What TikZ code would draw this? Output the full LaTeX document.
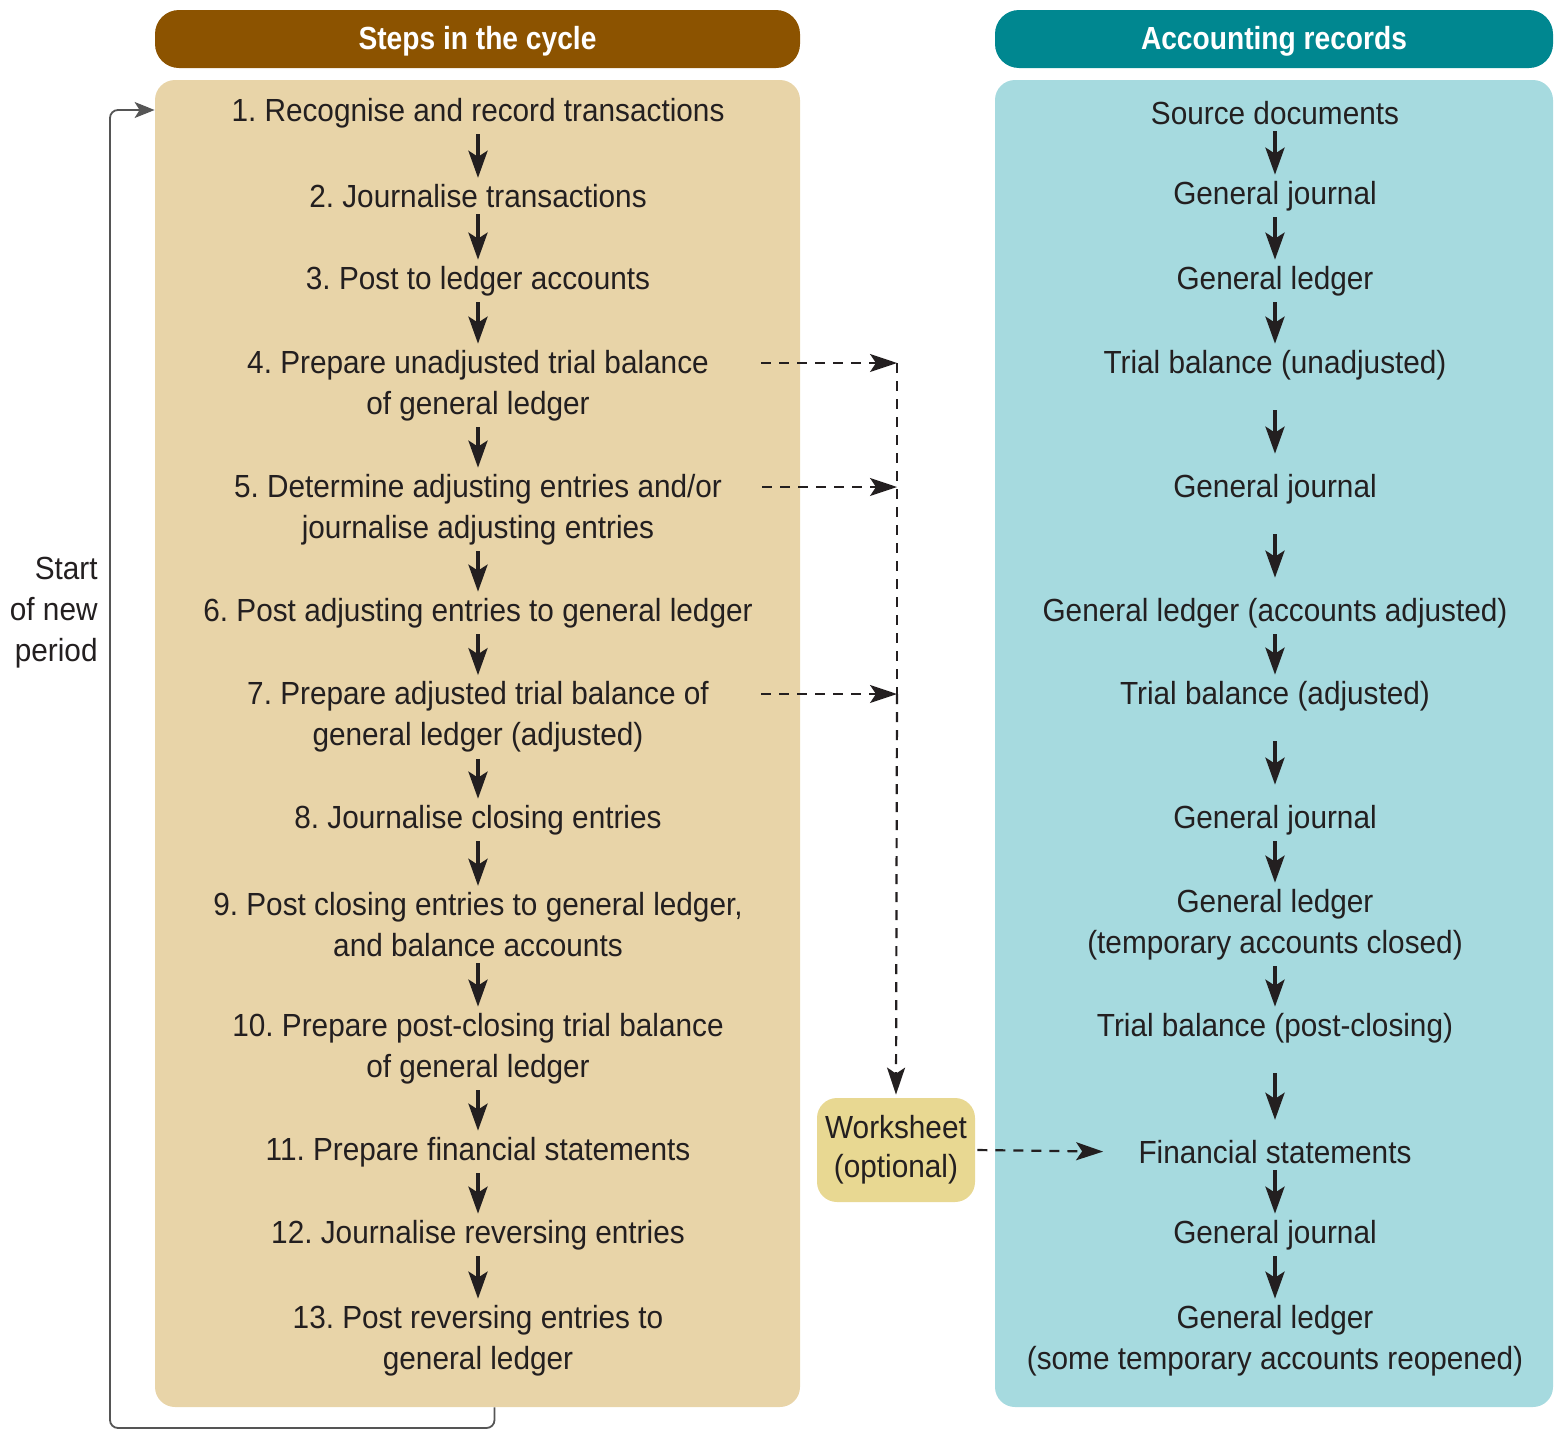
\documentclass[tikz,border=0pt]{standalone}
\usepackage{fontspec}
\setmainfont[FakeStretch=0.93]{Liberation Sans}
\newfontfamily\headfont[FakeStretch=0.88]{Liberation Sans}
\usetikzlibrary{arrows.meta}
\frenchspacing

\definecolor{brownhead}{HTML}{8C5300}
\definecolor{tanpanel}{HTML}{E8D4A8}
\definecolor{tealhead}{HTML}{008790}
\definecolor{aquapanel}{HTML}{A6DADF}
\definecolor{wsfill}{HTML}{E8D892}
\definecolor{ink}{HTML}{231F20}
\definecolor{loopgray}{HTML}{555555}

\tikzset{
  headbar/.style={rounded corners=12pt, inner sep=0pt},
  headtxt/.style={text=white, font=\headfont\bfseries\fontsize{16}{20}\selectfont, inner sep=0pt, yshift=-1.5pt},
  panelbox/.style={rounded corners=10pt, inner sep=0pt, minimum width=322.5pt, minimum height=663.5pt},
  stepbox/.style={inner sep=0pt, align=center, text=ink, yshift=-1.5pt},
  recbox/.style={inner sep=0pt, align=center, text=ink, yshift=-1.5pt},
  flow/.style={-{Stealth[length=13.5pt,width=9.5pt,inset=3pt]}, line width=2pt, draw=ink,
               shorten <=3pt, shorten >=3pt},
  dasharr/.style={-{Stealth[length=13.5pt,width=9pt,inset=3pt]}, line width=1.1pt, draw=ink,
                  dash pattern=on 5pt off 4pt},
  dashln/.style={line width=1.1pt, draw=ink, dash pattern=on 5pt off 4pt},
  looparr/.style={-{Stealth[length=10pt,width=8pt,inset=2.5pt]}, line width=0.9pt, draw=loopgray,
                  rounded corners=4pt},
}

\begin{document}
\begin{tikzpicture}[x=0.5pt, y=-0.5pt, font=\fontsize{16}{20.5}\selectfont]
\useasboundingbox (0,0) rectangle (1560,1430);

% column headers
\fill[brownhead, headbar] (155,10) rectangle (800,68);
\fill[tealhead, headbar] (995,10) rectangle (1553,68);
\node[headtxt] (hl) at (477.5,38) {Steps in the cycle};
\node[headtxt] (hr) at (1274,38) {Accounting records};

% column panels
\node[panelbox, fill=tanpanel] (lp) at (477.5,743.5) {};
\node[panelbox, fill=aquapanel, minimum width=279pt] (rp) at (1274,743.5) {};

% steps in the cycle
\node[stepbox] (s1) at (478,110) {1. Recognise and record transactions};
\node[stepbox] (s2) at (478,193) {2. Journalise transactions};
\node[stepbox] (s3) at (478,278) {3. Post to ledger accounts};
\node[stepbox] (s4) at (478,382.5) {4. Prepare unadjusted trial balance\\of general ledger};
\node[stepbox] (s5) at (478,506.5) {5. Determine adjusting entries and/or\\journalise adjusting entries};
\node[stepbox] (s6) at (478,610) {6. Post adjusting entries to general ledger};
\node[stepbox] (s7) at (478,714) {7. Prepare adjusted trial balance of\\general ledger (adjusted)};
\node[stepbox] (s8) at (478,817) {8. Journalise closing entries};
\node[stepbox] (s9) at (478,921.5) {9. Post closing entries to general ledger,\\and balance accounts};
\node[stepbox] (s10) at (478,1045.5) {10. Prepare post-closing trial balance\\of general ledger};
\node[stepbox] (s11) at (478,1149) {11. Prepare financial statements};
\node[stepbox] (s12) at (478,1232) {12. Journalise reversing entries};
\node[stepbox] (s13) at (478,1337.5) {13. Post reversing entries to\\general ledger};

\foreach \a/\b in {s1/s2,s2/s3,s3/s4,s4/s5,s5/s6,s6/s7,s7/s8,s8/s9,s9/s10,s10/s11,s11/s12,s12/s13}
  \draw[flow] (\a) -- (\b);

% accounting records
\node[recbox] (r1) at (1275,110) {Source documents};
\node[recbox] (r2) at (1275,193) {General journal};
\node[recbox] (r3) at (1275,278) {General ledger};
\node[recbox] (r4) at (1275,362) {Trial balance (unadjusted)};
\node[recbox] (r5) at (1275,486) {General journal};
\node[recbox] (r6) at (1275,610) {General ledger (accounts adjusted)};
\node[recbox] (r7) at (1275,693) {Trial balance (adjusted)};
\node[recbox] (r8) at (1275,817) {General journal};
\node[recbox] (r9) at (1275,921.5) {General ledger\\(temporary accounts closed)};
\node[recbox] (r10) at (1275,1025) {Trial balance (post-closing)};
\node[recbox] (r11) at (1275,1149) {Financial statements};
\node[recbox] (r12) at (1275,1232) {General journal};
\node[recbox] (r13) at (1275,1337.5) {General ledger\\(some temporary accounts reopened)};

\foreach \a/\b in {r1/r2,r2/r3,r3/r4,r6/r7,r8/r9,r9/r10,r11/r12,r12/r13}
  \draw[flow] (\a) -- (\b);
\foreach \a/\b in {r4/r5,r5/r6,r7/r8,r10/r11}
  \draw[flow, shorten <=15pt, shorten >=10pt] (\a) -- (\b);

% worksheet and its dashed feeds
\node[fill=wsfill, rounded corners=10pt, inner sep=0pt, minimum width=79pt, minimum height=52pt,
      align=center, text=ink, font=\fontsize{16}{20}\selectfont] (ws) at (896,1150)
      {\raisebox{-3pt}{\begin{tabular}{@{}c@{}}Worksheet\\[-0.5pt](optional)\end{tabular}}};
\coordinate (c4) at (897,363);
\coordinate (c5) at (897,487);
\coordinate (c7) at (897,694);
\draw[dasharr, shorten <=26pt] (s4.east |- c4) -- (c4);
\draw[dasharr, shorten <=20pt] (s5.east |- c5) -- (c5);
\draw[dasharr, shorten <=26pt] (s7.east |- c7) -- (c7);
\draw[dashln] (c4) -- (c7);
\draw[dasharr, shorten >=1.5pt] (c7) -- (ws.north);
\draw[dasharr, shorten <=1pt, shorten >=17.5pt] (ws.east) -- (r11.west);

% return loop to the start of the next period
\coordinate (lb) at (110,1428);
\draw[looparr] ([xshift=8.5pt]lp.south) |- (lb) |- ([yshift=1.5pt]lp.west |- s1);
\node[align=right, anchor=east, text=ink, inner sep=0pt, yshift=-1.5pt] (np) at (98,610) {Start\\of new\\period};
\end{tikzpicture}
\end{document}
